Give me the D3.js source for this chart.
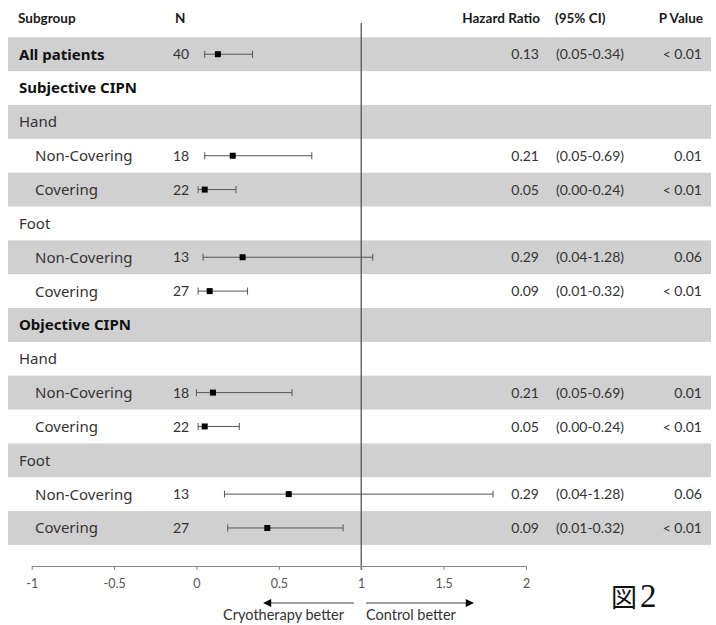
<!DOCTYPE html>
<html>
<head>
<meta charset="utf-8">
<script src="https://cdn.jsdelivr.net/npm/d3@7"></script>
<style>
  html, body { margin: 0; padding: 0; background: #fff; }
  svg { display: block; }
</style>
</head>
<body>
<svg id="chart" width="716" height="625"></svg>
<script>
// ---- data ----
const labels   = ["All patients","Subjective CIPN","Hand","Non-Covering","Covering","Foot","Non-Covering","Covering","Objective CIPN","Hand","Non-Covering","Covering","Foot","Non-Covering","Covering"];
const levels   = [0,0,1,2,2,1,2,2,0,1,2,2,1,2,2];
const nValues  = ["40","","","18","22","","13","27","","","18","22","","13","27"];
const hrPlot   = [0.13,null,null,0.22,0.05,null,0.28,0.08,null,null,0.10,0.05,null,0.56,0.43];
const loPlot   = [0.05,null,null,0.05,0.01,null,0.04,0.01,null,null,0.00,0.01,null,0.17,0.19];
const hiPlot   = [0.34,null,null,0.70,0.24,null,1.07,0.31,null,null,0.58,0.26,null,1.80,0.89];
const hrText   = ["0.13","","","0.21","0.05","","0.29","0.09","","","0.21","0.05","","0.29","0.09"];
const ciText   = ["(0.05-0.34)","","","(0.05-0.69)","(0.00-0.24)","","(0.04-1.28)","(0.01-0.32)","","","(0.05-0.69)","(0.00-0.24)","","(0.04-1.28)","(0.01-0.32)"];
const pText    = ["< 0.01","","","0.01","< 0.01","","0.06","< 0.01","","","0.01","< 0.01","","0.06","< 0.01"];
const tickVals = [-1,-0.5,0,0.5,1,1.5,2];
const headers  = ["Subgroup","N","Hazard Ratio","(95% CI)","P Value"];

// ---- layout ----
const svg = d3.select("#chart");
const x = d3.scaleLinear().domain([-1, 2]).range([31.7, 526]);
const y = d3.scaleBand().domain(d3.range(labels.length)).range([37.3, 544.9]).padding(0);
const bandL = 8, bandR = 711;
const axisY = 566;

const labelFont = "'Noto Sans', 'DejaVu Sans', sans-serif";
const numFont = "Lato, 'Open Sans', sans-serif";

// alternating bands
svg.append("g").selectAll("rect")
  .data(d3.range(labels.length).filter(i => i % 2 === 0))
  .join("rect")
  .attr("x", bandL).attr("width", bandR - bandL)
  .attr("y", i => y(i)).attr("height", y.bandwidth())
  .attr("fill", "#d0d0d0");

// header
const hdr = svg.append("g").attr("font-family", numFont).attr("font-weight", "bold")
  .attr("font-size", 13.5).attr("fill", "#1a1a1a");
const hx = [18, 175, 540, 555, 703];
const ha = ["start","start","end","start","end"];
hdr.selectAll("text").data(headers).join("text")
  .attr("x", (d, i) => hx[i]).attr("y", 23)
  .attr("text-anchor", (d, i) => ha[i]).text(d => d);

// reference line at 1
svg.append("line")
  .attr("x1", x(1)).attr("x2", x(1))
  .attr("y1", 23).attr("y2", 570)
  .attr("stroke", "#555").attr("stroke-width", 1.3);

// row labels
const rows = svg.append("g");
rows.selectAll("text.lab").data(labels).join("text").attr("class","lab")
  .attr("x", (d, i) => levels[i] === 2 ? 35 : 19)
  .attr("y", (d, i) => y(i) + y.bandwidth() / 2)
  .attr("dy", "0.36em")
  .attr("font-family", labelFont)
  .attr("font-size", 15)
  .attr("font-weight", (d, i) => levels[i] === 0 ? "bold" : "normal")
  .attr("fill", (d, i) => levels[i] === 0 ? "#111" : "#333")
  .text(d => d);

function numCol(arr, xpos, anchor) {
  rows.append("g").selectAll("text").data(arr).join("text")
    .attr("x", xpos)
    .attr("y", (d, i) => y(i) + y.bandwidth() / 2)
    .attr("dy", "0.36em")
    .attr("text-anchor", anchor)
    .attr("font-family", numFont)
    .attr("font-size", 14)
    .attr("fill", "#333")
    .text(d => d);
}
numCol(nValues, 173, "start");
numCol(hrText, 539, "end");
numCol(ciText, 556, "start");
numCol(pText, 702, "end");

// CI lines
const idx = d3.range(labels.length).filter(i => hrPlot[i] !== null);
const ci = svg.append("g").attr("stroke", "#555").attr("stroke-width", 1);
ci.selectAll("line.ci").data(idx).join("line").attr("class","ci")
  .attr("x1", i => x(loPlot[i])).attr("x2", i => x(hiPlot[i]))
  .attr("y1", i => y(i) + y.bandwidth() / 2).attr("y2", i => y(i) + y.bandwidth() / 2);
ci.selectAll("line.capl").data(idx).join("line").attr("class","capl")
  .attr("x1", i => x(loPlot[i])).attr("x2", i => x(loPlot[i]))
  .attr("y1", i => y(i) + y.bandwidth() / 2 - 3.5).attr("y2", i => y(i) + y.bandwidth() / 2 + 3.5);
ci.selectAll("line.caph").data(idx).join("line").attr("class","caph")
  .attr("x1", i => x(hiPlot[i])).attr("x2", i => x(hiPlot[i]))
  .attr("y1", i => y(i) + y.bandwidth() / 2 - 3.5).attr("y2", i => y(i) + y.bandwidth() / 2 + 3.5);
svg.append("g").selectAll("rect").data(idx).join("rect")
  .attr("x", i => x(hrPlot[i]) - 3).attr("y", i => y(i) + y.bandwidth() / 2 - 3)
  .attr("width", 6).attr("height", 6).attr("fill", "#000");

// axis
const axis = d3.axisBottom(x).tickValues(tickVals).tickFormat(d => String(d))
  .tickSize(4).tickSizeOuter(0).tickPadding(9);
const ag = svg.append("g").attr("transform", `translate(0,${axisY})`).call(axis);
ag.select(".domain").attr("stroke", "#888");
ag.selectAll(".tick line").attr("stroke", "#888");
ag.selectAll(".tick text").attr("font-family", numFont).attr("font-size", 12.5).attr("fill", "#555");

// arrows
const defs = svg.append("defs");
defs.append("marker").attr("id", "ah").attr("viewBox", "0 0 10 10")
  .attr("refX", 9).attr("refY", 5).attr("markerWidth", 10).attr("markerHeight", 8)
  .attr("markerUnits", "userSpaceOnUse").attr("orient", "auto")
  .append("path").attr("d", "M0,0 L10,5 L0,10 Z").attr("fill", "#000");
const arrowY = 603;
svg.append("line").attr("x1", 354).attr("x2", 264).attr("y1", arrowY).attr("y2", arrowY)
  .attr("stroke", "#444").attr("stroke-width", 1.2).attr("marker-end", "url(#ah)");
svg.append("line").attr("x1", 366).attr("x2", 473).attr("y1", arrowY).attr("y2", arrowY)
  .attr("stroke", "#444").attr("stroke-width", 1.2).attr("marker-end", "url(#ah)");
svg.append("text").attr("x", 344).attr("y", 620).attr("text-anchor", "end")
  .attr("font-family", numFont).attr("font-size", 14.5).attr("fill", "#333").text("Cryotherapy better");
svg.append("text").attr("x", 366).attr("y", 620).attr("text-anchor", "start")
  .attr("font-family", numFont).attr("font-size", 14.5).attr("fill", "#333").text("Control better");

// figure label
const fig = svg.append("text").attr("x", 611).attr("y", 607).attr("fill", "#111");
fig.append("tspan").attr("font-family", "'Noto Sans CJK JP'").attr("font-size", 26).text("図");
fig.append("tspan").attr("font-family", "'Liberation Serif', serif").attr("font-size", 33).attr("dx", 3).text("2");
</script>
</body>
</html>
